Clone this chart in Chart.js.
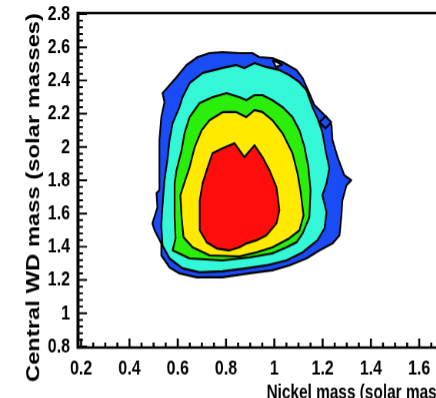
<!DOCTYPE html>
<html>
<head>
<meta charset="utf-8">
<script src="https://cdn.jsdelivr.net/npm/chart.js@4.4.1/dist/chart.umd.min.js"></script>
<style>
  html, body { margin: 0; padding: 0; background: #fff; overflow: hidden; width: 436px; height: 398px; }
  #stage { position: absolute; left: 0; top: 0; width: 480px; height: 312px; transform: scale(1, 1.3); transform-origin: 0 0; }
</style>
</head>
<body>
<div id="stage"><canvas id="chart" width="480" height="312"></canvas></div>
<script>
// Axis ticks and labels
const xTickValues = [0.2, 0.4, 0.6, 0.8, 1.0, 1.2, 1.4, 1.6, 1.8];
const xTickLabels = ['0.2', '0.4', '0.6', '0.8', '1', '1.2', '1.4', '1.6', '1.8'];
const yTickValues = [0.8, 1.0, 1.2, 1.4, 1.6, 1.8, 2.0, 2.2, 2.4, 2.6, 2.8];
const yTickLabels = ['0.8', '1', '1.2', '1.4', '1.6', '1.8', '2', '2.2', '2.4', '2.6', '2.8'];

// Contour boundaries, outermost level first.
// Each pair: nickel mass (x) and central WD mass (y) along the closed contour.
const level1Ni = [0.524, 0.524, 0.524, 0.532, 0.545, 0.537, 0.595, 0.636, 0.682, 0.731, 0.785, 0.855, 0.909, 0.938, 0.992, 1.034, 1.092, 1.117, 1.145, 1.166, 1.216, 1.237, 1.241, 1.262, 1.290, 1.319, 1.299, 1.282, 1.278, 1.270, 1.241, 1.187, 1.133, 1.062, 0.992, 0.897, 0.785, 0.678, 0.607, 0.566, 0.532, 0.532, 0.504, 0.495, 0.516, 0.512];
const level1WD = [1.740, 1.860, 2.041, 2.180, 2.270, 2.324, 2.420, 2.493, 2.541, 2.565, 2.571, 2.565, 2.565, 2.541, 2.535, 2.511, 2.463, 2.414, 2.324, 2.252, 2.180, 2.131, 2.041, 1.939, 1.830, 1.800, 1.770, 1.680, 1.589, 1.469, 1.420, 1.378, 1.330, 1.288, 1.258, 1.240, 1.216, 1.216, 1.240, 1.276, 1.348, 1.420, 1.499, 1.541, 1.637, 1.722];

const level2Ni = [0.537, 0.545, 0.557, 0.566, 0.579, 0.607, 0.620, 0.649, 0.703, 0.785, 0.843, 0.876, 0.918, 0.967, 1.021, 1.062, 1.104, 1.133, 1.158, 1.179, 1.199, 1.212, 1.228, 1.216, 1.199, 1.216, 1.208, 1.179, 1.117, 1.050, 0.967, 0.884, 0.785, 0.690, 0.620, 0.566, 0.537, 0.532];
const level2WD = [1.649, 1.800, 1.920, 2.041, 2.143, 2.240, 2.300, 2.384, 2.445, 2.475, 2.493, 2.475, 2.505, 2.481, 2.463, 2.433, 2.390, 2.342, 2.240, 2.173, 2.089, 1.981, 1.872, 1.782, 1.710, 1.607, 1.511, 1.439, 1.366, 1.318, 1.288, 1.270, 1.252, 1.246, 1.270, 1.330, 1.408, 1.529];

const level3Ni = [0.587, 0.587, 0.595, 0.616, 0.628, 0.649, 0.690, 0.744, 0.802, 0.855, 0.884, 0.918, 0.951, 0.992, 1.034, 1.075, 1.104, 1.125, 1.141, 1.150, 1.145, 1.117, 1.092, 1.050, 0.992, 0.897, 0.785, 0.649, 0.579, 0.591];
const level3WD = [1.577, 1.782, 1.860, 1.981, 2.083, 2.180, 2.264, 2.300, 2.324, 2.300, 2.282, 2.312, 2.312, 2.282, 2.240, 2.180, 2.101, 1.999, 1.878, 1.740, 1.577, 1.481, 1.427, 1.396, 1.360, 1.336, 1.318, 1.330, 1.378, 1.451];

const level4Ni = [0.616, 0.611, 0.624, 0.649, 0.670, 0.699, 0.732, 0.786, 0.843, 0.884, 0.918, 0.951, 0.992, 1.034, 1.075, 1.096, 1.108, 1.121, 1.104, 1.062, 0.992, 0.926, 0.855, 0.732, 0.662, 0.624];
const level4WD = [1.577, 1.710, 1.770, 1.878, 1.999, 2.101, 2.161, 2.210, 2.210, 2.180, 2.222, 2.210, 2.161, 2.083, 1.963, 1.842, 1.740, 1.589, 1.499, 1.451, 1.396, 1.366, 1.342, 1.348, 1.396, 1.457];

const level5Ni = [0.691, 0.691, 0.703, 0.720, 0.744, 0.786, 0.835, 0.876, 0.918, 0.951, 0.980, 1.009, 1.021, 1.009, 0.967, 0.926, 0.884, 0.855, 0.814, 0.761, 0.720, 0.691];
const level5WD = [1.577, 1.680, 1.782, 1.860, 1.963, 1.993, 2.023, 1.939, 2.011, 1.939, 1.860, 1.758, 1.619, 1.541, 1.469, 1.439, 1.420, 1.396, 1.378, 1.390, 1.427, 1.499];

// Small isolated contours inside the outer band
const holeNi = [0.993, 1.032, 1.007];
const holeWD = [2.525, 2.496, 2.480];
const islandNi = [1.212, 1.236, 1.212, 1.187];
const islandWD = [2.186, 2.149, 2.113, 2.149];

const levelColors = ['#1a4cf5', '#33f7d6', '#2bef0a', '#ffea00', '#ff0d0d'];

function closedPath(xs, ys) {
  const pts = xs.map((x, i) => ({ x: x, y: ys[i] }));
  pts.push({ x: xs[0], y: ys[0] });
  return pts;
}

function contour(xs, ys, color, order) {
  return {
    data: closedPath(xs, ys),
    showLine: true,
    fill: 'shape',
    backgroundColor: color,
    borderColor: '#000',
    borderWidth: 1.7,
    borderJoinStyle: 'round',
    pointRadius: 0,
    pointHoverRadius: 0,
    tension: 0,
    order: order
  };
}

const datasets = [
  contour(level1Ni, level1WD, levelColors[0], 6),
  contour(level2Ni, level2WD, levelColors[1], 5),
  contour(level3Ni, level3WD, levelColors[2], 4),
  contour(level4Ni, level4WD, levelColors[3], 3),
  contour(level5Ni, level5WD, levelColors[4], 2),
  contour(holeNi, holeWD, '#ffffff', 1),
  contour(islandNi, islandWD, levelColors[0], 1)
];

// Frame plus inward-pointing major/minor tick marks
const frameTicks = {
  id: 'frameTicks',
  afterDraw(chart) {
    const { ctx, chartArea: a, scales: { x, y } } = chart;
    ctx.save();
    ctx.strokeStyle = '#000';
    ctx.lineCap = 'butt';

    ctx.lineWidth = 1.5;
    ctx.beginPath();
    for (let i = 0; i <= 50; i++) {
      const v = 0.8 + i * 0.04;
      const py = y.getPixelForValue(v);
      const len = i % 5 === 0 ? 9 : 5;
      ctx.moveTo(a.left, py);
      ctx.lineTo(a.left + len, py);
    }
    ctx.stroke();

    ctx.lineWidth = 2;
    ctx.beginPath();
    for (let i = 0; i <= 32; i++) {
      const v = 0.2 + i * 0.05;
      const px = x.getPixelForValue(v);
      const len = i % 4 === 0 ? 6.9 : 3.8;
      ctx.moveTo(px, a.bottom);
      ctx.lineTo(px, a.bottom - len);
    }
    ctx.stroke();

    ctx.lineWidth = 2;
    ctx.beginPath();
    ctx.moveTo(a.left, a.top);
    ctx.lineTo(a.right, a.top);
    ctx.lineTo(a.right, a.bottom);
    ctx.moveTo(a.left, a.bottom);
    ctx.lineTo(a.right, a.bottom);
    ctx.stroke();

    ctx.lineWidth = 3;
    ctx.beginPath();
    ctx.moveTo(a.left, a.top - 1);
    ctx.lineTo(a.left, a.bottom + 1);
    ctx.stroke();
    ctx.restore();
  }
};

const fontFamily = "'Liberation Sans', Arial, Helvetica, sans-serif";

new Chart(document.getElementById('chart'), {
  type: 'scatter',
  data: { datasets: datasets },
  plugins: [frameTicks],
  options: {
    responsive: false,
    animation: false,
    devicePixelRatio: 1.3,
    layout: { padding: { left: 0, top: 10, right: 12.5, bottom: 1.06 } },
    plugins: { legend: { display: false }, tooltip: { enabled: false } },
    events: [],
    scales: {
      x: {
        type: 'linear',
        min: 0.187,
        max: 1.8,
        grid: { display: false, drawTicks: false },
        border: { display: false },
        afterBuildTicks: s => { s.ticks = xTickValues.map(v => ({ value: v })); },
        afterFit: s => { s.height = 44.04; s.paddingLeft = 0; s.paddingRight = 0; },
        ticks: {
          autoSkip: false, maxRotation: 0, minRotation: 0, padding: 6.9,
          color: '#000',
          font: { family: fontFamily, size: 16, weight: 'bold' },
          callback: (v, i) => xTickLabels[i]
        },
        title: {
          display: true, text: 'Nickel mass (solar masses)', align: 'end', color: '#000',
          font: { family: fontFamily, size: 15.4, weight: 'bold' },
          padding: { top: 0, bottom: 0 }
        }
      },
      y: {
        type: 'linear',
        min: 0.794,
        max: 2.806,
        grid: { display: false, drawTicks: false },
        border: { display: false },
        afterBuildTicks: s => { s.ticks = yTickValues.map(v => ({ value: v })); },
        afterFit: s => { s.width = 78; s.paddingTop = 0; s.paddingBottom = 0; },
        ticks: {
          autoSkip: false, padding: 8,
          color: '#000',
          font: { family: fontFamily, size: 16, weight: 'bold' },
          callback: (v, i) => yTickLabels[i]
        },
        title: {
          display: true, text: 'Central WD mass (solar masses)', align: 'end', color: '#000',
          font: { family: fontFamily, size: 18.3, weight: 'bold' },
          padding: { top: 23.3, bottom: 0 }
        }
      }
    }
  }
});
</script>
</body>
</html>
